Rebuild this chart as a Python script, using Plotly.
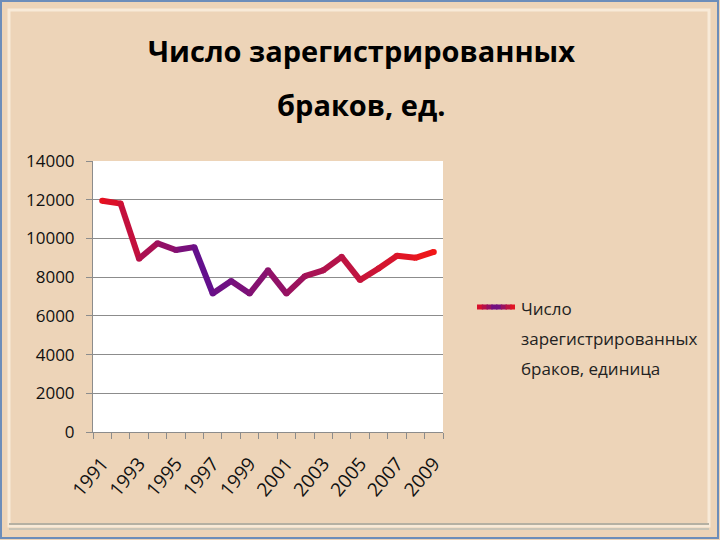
import plotly.graph_objects as go

# Data
years = list(range(1991, 2010))
marriages = [11950, 11800, 8950, 9750, 9400, 9550, 7150, 7800, 7150, 8350,
             7150, 8050, 8350, 9050, 7850, 8450, 9100, 9000, 9300]
tick_years = [1991, 1993, 1995, 1997, 1999, 2001, 2003, 2005, 2007, 2009]
y_ticks = [0, 2000, 4000, 6000, 8000, 10000, 12000, 14000]
series_name = ['Число', 'зарегистрированных', 'браков, единица']

# plot area in pixels
L, R, T, B = 93, 443, 161, 432
W, H = 720, 540


def px(x):
    return (x - L) / (R - L)


def py(y):
    return (B - y) / (B - T)


def grad(t):
    """red -> purple -> red, like the Excel gradient line"""
    stops = [(0.0, (232, 16, 30)), (0.3, (98, 16, 142)), (1.0, (242, 22, 22))]
    for (t0, c0), (t1, c1) in zip(stops, stops[1:]):
        if t <= t1:
            f = (t - t0) / (t1 - t0)
            c = [round(a + (b - a) * f) for a, b in zip(c0, c1)]
            return 'rgb(%d,%d,%d)' % tuple(c)
    return 'rgb(%d,%d,%d)' % stops[-1][1]


fig = go.Figure()

n = len(years)
for i in range(n - 1):
    t = (i + 0.5) / (n - 1)
    fig.add_trace(go.Scatter(x=years[i:i + 2], y=marriages[i:i + 2], mode='lines',
                             line=dict(color=grad(t), width=6), showlegend=False,
                             hoverinfo='skip'))
# round joints
fig.add_trace(go.Scatter(x=years, y=marriages, mode='markers', showlegend=False,
                         marker=dict(size=6, color=[grad(i / (n - 1)) for i in range(n)],
                                     line=dict(width=0))))

fnt = 'Open Sans'
shapes = [
    # slide frame
    dict(type='rect', xref='paper', yref='paper', x0=px(1), x1=px(718), y0=py(1), y1=py(538),
         line=dict(color='#6c8dba', width=2), layer='below'),
    dict(type='rect', xref='paper', yref='paper', x0=px(9), x1=px(709), y0=py(10), y1=py(526),
         line=dict(color='#f8ead8', width=3), layer='below'),
    dict(type='line', xref='paper', yref='paper', x0=px(9), x1=px(709), y0=py(524), y1=py(524),
         line=dict(color='#b5b0a2', width=2), layer='below'),
    dict(type='line', xref='paper', yref='paper', x0=px(9), x1=px(709), y0=py(529), y1=py(529),
         line=dict(color='#c9c4b6', width=2), layer='below'),
]
# legend sample with gradient (red - purple - red)
steps = 8
x_start, x_end, y_leg = 477, 515, 307
seg = (x_end - x_start) / steps
for k in range(steps):
    a = x_start + seg * k
    b = min(x_start + seg * (k + 1) + 1.5, x_end)
    u = (k + 0.5) / steps
    col = grad(0.3 * 2 * u if u < 0.5 else 0.3 + 0.7 * (2 * u - 1))
    shapes.append(dict(type='line', xref='paper', yref='paper', x0=px(a), x1=px(b),
                       y0=py(y_leg), y1=py(y_leg), line=dict(color=col, width=5)))

annotations = [
    dict(text='<b>Число зарегистрированных</b>', x=px(361), y=py(50), xref='paper', yref='paper',
         showarrow=False, font=dict(family=fnt, size=29, color='#000000'), xanchor='center', yanchor='middle'),
    dict(text='<b>браков, ед.</b>', x=px(361), y=py(104), xref='paper', yref='paper',
         showarrow=False, font=dict(family=fnt, size=29, color='#000000'), xanchor='center', yanchor='middle'),
]
for j, line in enumerate(series_name):
    annotations.append(dict(text=line, x=px(519), y=py(308 + 30 * j), xref='paper', yref='paper',
                            showarrow=False, xanchor='left', yanchor='middle',
                            font=dict(family=fnt, size=17, color='#222222')))

fig.update_layout(
    width=W, height=H,
    margin=dict(l=L, r=W - R, t=T, b=H - B),
    paper_bgcolor='#edd4b8',
    plot_bgcolor='#ffffff',
    showlegend=False,
    font=dict(family=fnt, color='#111111'),
    shapes=shapes,
    annotations=annotations,
    xaxis=dict(range=[1990.5, 2009.5], tickmode='array', tickvals=tick_years,
               ticktext=[str(y) for y in tick_years], tickangle=-50, ticks='',
               tickfont=dict(size=19), showgrid=False, zeroline=False,
               showline=True, linecolor='#8c8c8c', linewidth=1, ticklabelstandoff=12,
               minor=dict(ticks='outside', tick0=1990.5, dtick=1, ticklen=6,
                          tickcolor='#8c8c8c', showgrid=False)),
    yaxis=dict(range=[0, 14000], tickmode='array', tickvals=y_ticks,
               ticktext=[str(v) for v in y_ticks],
               ticks='outside', ticklen=6, tickcolor='#8c8c8c', tickfont=dict(size=17),
               ticklabelstandoff=8,
               showgrid=True, gridcolor='#8c8c8c', gridwidth=1, zeroline=False,
               showline=True, linecolor='#8c8c8c', linewidth=1),
)

fig.write_html('out.html', config={'displayModeBar': False},
               post_script="document.body.style.margin='0';")
